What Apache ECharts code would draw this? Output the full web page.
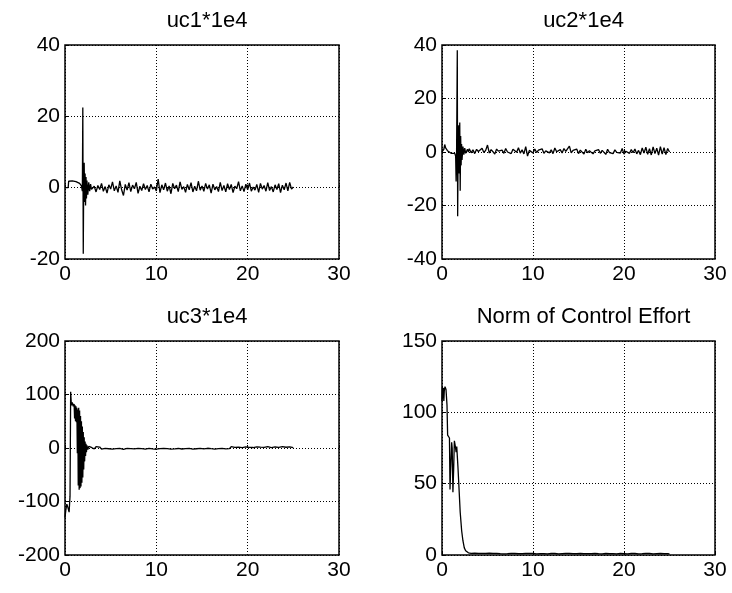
<!DOCTYPE html>
<html>
<head>
<meta charset="utf-8">
<script src="https://cdn.jsdelivr.net/npm/echarts@6/dist/echarts.min.js"></script>
<style>html,body{margin:0;padding:0;background:#fff;}#c{width:732px;height:593px;}</style>
</head>
<body>
<div id="c"></div>
<script>
// ---- data ----
var titles = ['uc1*1e4', 'uc2*1e4', 'uc3*1e4', 'Norm of Control Effort'];
var xTicks = [0, 10, 20, 30];
var yRanges = [[-20, 40, 20], [-40, 40, 20], [-200, 200, 100], [0, 150, 50]];

var tailStart = 3.0, tailStep = 0.2;

var uc1Early = [[0,0],[0.35,0],[0.4,1.8],[0.6,1.5],[0.8,1.9],[1.0,1.4],[1.2,1.7],[1.4,2.0],[1.6,1.2],[1.8,0.5],[1.9,-1],[1.95,22.5],[2.0,-18.5],[2.05,3],[2.1,7],[2.15,-4],[2.2,4],[2.25,-5],[2.3,3],[2.35,-3],[2.4,2],[2.5,-2],[2.6,1.5],[2.7,-1],[2.8,1],[2.9,-0.5]];
var uc1Tail = [-0.8,0.4,-1.2,0.6,-0.5,1.2,-1.0,0.3,-1.5,0.8,
  -0.4,1.6,-0.9,0.5,-1.3,1.9,-0.6,-2.2,0.9,-0.7,
  1.4,-1.1,0.7,-0.3,1.5,-1.6,0.4,-0.8,1.1,-0.5,
  0.6,-1.2,1.0,-0.4,0.2,-0.9,2.4,-1.4,0.8,-0.6,
  1.3,-1.0,0.5,-1.7,1.2,-0.3,0.7,-1.1,1.6,-0.5,
  0.3,-1.3,0.9,-0.6,1.4,-1.2,0.4,-0.9,1.8,-0.7,
  0.5,-1.0,1.2,-0.4,0.8,-1.5,1.0,-0.6,0.3,-1.1,
  1.5,-0.8,0.6,-1.2,1.1,-0.5,0.9,-1.4,0.4,-0.3,
  1.7,-0.9,0.5,-1.1,1.0,-0.6,1.3,-1.0,0.2,-0.7,
  0.9,-1.3,1.2,-0.4,0.6,-1.0,1.4,-0.8,0.3,-1.2,
  0.8,-0.5,1.1,-1.4,0.7,-0.6,1.3,-0.9,1.5,-0.4,
  0.2];

var uc2Early = [[0,0],[0.2,1],[0.3,2.8],[0.4,1.5],[0.6,0.5],[0.8,0],[1.0,-0.5],[1.2,-1],[1.4,-0.5],[1.5,-1.5],[1.55,-11],[1.6,-2],[1.68,38],[1.72,-24],[1.78,5],[1.85,10],[1.9,-8],[1.95,11],[2.0,-14.5],[2.05,6],[2.1,-5],[2.15,3],[2.2,-3],[2.3,2],[2.4,-1],[2.5,1.5],[2.6,-0.5],[2.8,1],[2.9,0]];
var uc2Tail = [1.2,-0.3,0.8,-0.6,1.0,0.2,-0.5,1.4,-0.2,0.6,
  2.6,-0.4,0.9,0.1,-0.8,1.1,0.3,-0.2,0.7,-0.5,
  1.3,0.0,0.5,-0.6,1.0,0.3,-0.1,1.6,-0.4,0.8,
  -0.7,2.0,-1.5,0.6,0.2,-0.4,1.1,-0.2,0.7,0.0,
  1.2,-0.5,0.4,1.0,-0.3,0.8,-0.6,1.5,0.1,-0.2,
  0.9,-0.4,1.3,0.2,-0.5,2.2,-0.3,0.6,0.0,1.1,
  -0.6,0.7,0.2,-0.8,1.0,-0.3,0.5,1.2,-0.7,0.4,
  -0.2,0.9,-0.5,0.6,0.1,-0.9,1.0,-0.2,0.4,-0.6,
  0.8,-0.1,0.5,-0.4,1.3,-0.8,0.3,0.7,-0.5,0.9,
  -0.3,1.1,-0.7,0.6,-1.0,1.5,-0.4,1.8,-0.9,1.2,
  -1.1,1.9,-0.6,1.4,-1.2,2.0,-0.8,1.6,-1.0,1.3,
  0.0];

var uc3Early = [[0,-130],[0.1,-115],[0.2,-105],[0.3,-110],[0.4,-108],[0.45,-120],[0.55,-90],[0.62,105],[0.7,80],[0.8,85],[0.9,78],[1.0,82],[1.05,55],[1.1,80],[1.15,50],[1.2,78],[1.25,48],[1.3,75],[1.35,-10],[1.4,72],[1.45,-70],[1.5,75],[1.55,-78],[1.6,70],[1.65,-75],[1.7,60],[1.75,-72],[1.8,50],[1.85,-65],[1.9,40],[1.95,-55],[2.0,30],[2.05,-40],[2.1,20],[2.15,-25],[2.2,12],[2.25,-15],[2.3,8],[2.35,-8],[2.4,5],[2.5,-3],[2.6,3],[2.7,2],[2.8,3],[2.9,1]];
var uc3Tail = [2.0,-1.5,2.5,-1.0,1.8,-2.2,1.2,-0.8,2.6,-1.4,
  1.5,-2.0,0.8,-1.2,2.2,-0.6,1.7,-2.4,1.0,-0.9,
  2.3,-1.3,0.6,-1.8,1.9,-0.7,2.8,-1.1,0.9,-2.1,
  1.4,-0.5,2.0,-1.6,1.1,-2.3,0.7,-1.0,1.6,-0.8,
  2.4,-1.2,1.0,-2.0,0.5,-1.5,2.1,-0.9,1.3,-1.9,
  0.8,-1.1,2.5,-0.6,1.5,-2.2,1.0,-1.4,2.0,-0.7,
  1.2,-1.8,0.9,-0.5,2.3,-1.3,1.6,-2.0,0.6,-1.0,
  2.2,-0.8,1.4,-1.7,0.7,-1.2,2.6,-0.9,1.1,-2.1,
  1.8,-1.0,0.5,-1.6,2.0,-0.7,1.3,-2.4,0.9,-1.2,
  2.1,-0.6,1.5,-1.9,1.0,-1.3,2.4,-0.8,0.7,-1.7,
  1.9,-1.1,1.2,-2.0,2.5,-0.9,1.4,-1.5,2.2,-0.6,
  0.5];

var normEarly = [[0,108],[0.05,118],[0.1,110],[0.15,117],[0.2,108],[0.25,115],[0.33,118],[0.44,116],[0.55,105],[0.62,84],[0.75,83],[0.82,82],[0.88,46],[0.95,60],[1.06,79],[1.12,75],[1.2,44],[1.28,60],[1.36,80],[1.47,76],[1.55,72],[1.62,76],[1.75,62],[1.86,48],[2.0,30],[2.16,17],[2.3,10],[2.45,5],[2.6,3],[2.7,2],[2.9,1.5]];
var normTail = [1.4,1.2,1.1,1.3,0.9,1.2,1.0,1.1,0.8,1.2,
  1.0,1.3,0.9,1.1,0.8,1.2,1.0,0.9,1.1,0.8,
  1.2,0.9,1.0,1.1,0.8,1.2,0.9,1.0,1.3,0.9,
  1.0,1.1,0.8,1.2,0.9,1.1,1.3,0.8,1.0,0.9,
  1.1,0.9,1.2,0.8,1.0,1.1,0.9,1.2,1.0,0.8,
  1.1,1.0,0.9,1.2,0.8,1.1,1.0,0.9,1.2,1.0,
  0.9,1.1,0.8,1.0,1.2,0.9,1.1,1.0,0.8,1.1,
  1.0,0.9,1.2,0.8,1.0,1.1,0.9,1.0,1.2,0.9,
  1.1,0.8,1.0,1.2,0.9,1.0,1.1,0.8,1.0,1.1,
  0.9,1.2,1.0,0.8,1.1,0.9,1.0,1.2,0.9,1.1,
  1.0,0.8,1.1,1.0,0.9,1.2,0.9,1.0,1.1,0.9,
  0.8];

// ---- build ----
function build(early, tail) {
  var out = early.slice();
  for (var i = 0; i < tail.length; i++) {
    out.push([+(tailStart + i * tailStep).toFixed(2), tail[i]]);
  }
  return out;
}
var seriesData = [build(uc1Early, uc1Tail), build(uc2Early, uc2Tail), build(uc3Early, uc3Tail), build(normEarly, normTail)];

var grids = [
  {left: 65, top: 45, width: 274, height: 214},
  {left: 442, top: 45, width: 273, height: 214},
  {left: 65, top: 341, width: 274, height: 214},
  {left: 442, top: 341, width: 273, height: 214}
];
var FONT = 'Liberation Sans, Arial, sans-serif';

var option = {
  animation: false,
  backgroundColor: '#fff',
  title: grids.map(function (g, i) {
    return {
      text: titles[i], left: g.left + g.width / 2, top: g.top - 40, textAlign: 'center',
      textStyle: {fontFamily: FONT, fontSize: 22, fontWeight: 'normal', color: '#000'}
    };
  }),
  grid: grids.map(function (g) {
    return {left: g.left, top: g.top, width: g.width, height: g.height, show: true,
      borderColor: '#000', borderWidth: 1.5, backgroundColor: '#fff', containLabel: false};
  }),
  xAxis: grids.map(function (g, i) {
    return {
      type: 'value', gridIndex: i, min: xTicks[0], max: xTicks[xTicks.length - 1], interval: 10,
      axisLine: {show: false},
      axisTick: {show: true, inside: true, length: 3, lineStyle: {color: '#000'}},
      axisLabel: {color: '#000', fontFamily: FONT, fontSize: 21, margin: 5},
      splitLine: {show: true, lineStyle: {color: '#000', width: 1, type: [1, 2]}}
    };
  }),
  yAxis: grids.map(function (g, i) {
    return {
      type: 'value', gridIndex: i, min: yRanges[i][0], max: yRanges[i][1], interval: yRanges[i][2],
      axisLine: {show: false},
      axisTick: {show: true, inside: true, length: 3, lineStyle: {color: '#000'}},
      axisLabel: {color: '#000', fontFamily: FONT, fontSize: 21, margin: 5},
      splitLine: {show: true, lineStyle: {color: '#000', width: 1, type: [1, 2]}}
    };
  }),
  series: seriesData.map(function (d, i) {
    return {
      type: 'line', xAxisIndex: i, yAxisIndex: i, data: d, showSymbol: false, symbol: 'none',
      sampling: null, lineStyle: {color: '#000', width: 1.3}, z: 3
    };
  })
};
var chart = echarts.init(document.getElementById('c'), null, {renderer: 'canvas'});
chart.setOption(option);
</script>
</body>
</html>
